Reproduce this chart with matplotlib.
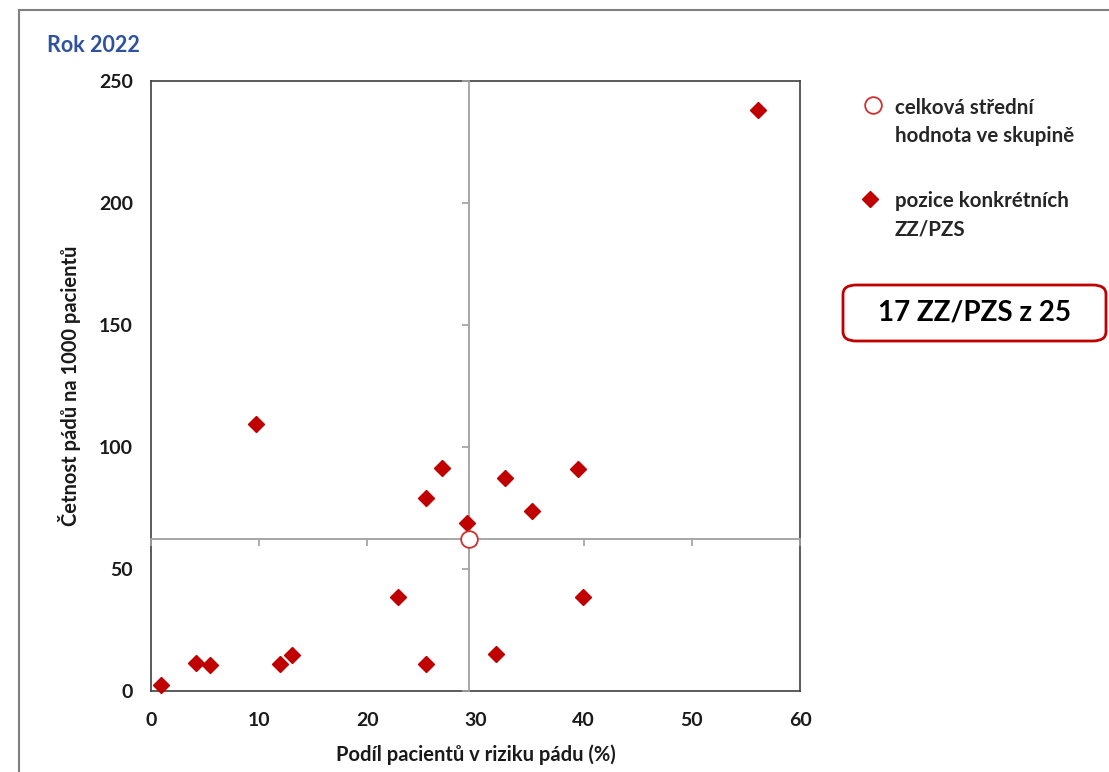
import matplotlib
matplotlib.use("Agg")
import matplotlib.pyplot as plt
from matplotlib.lines import Line2D
from matplotlib.patches import Rectangle, FancyBboxPatch

plt.rcParams['font.family'] = ['Lato', 'DejaVu Sans']
plt.rcParams['font.weight'] = 'bold'

# Data
risk_pct = [9.7, 26.9, 25.4, 29.2, 32.7, 35.2, 39.5, 22.8, 39.9, 31.9,
            25.4, 13.0, 11.9, 4.2, 5.5, 0.9, 56.1]
falls_per_1000 = [109.3, 91.5, 79.0, 68.9, 87.4, 73.8, 91.1, 38.5, 38.5, 15.2,
                  11.1, 14.6, 11.1, 11.6, 10.5, 2.6, 238.1]
mean_x = 29.4
mean_y = 62.5
x_ticks = [0, 10, 20, 30, 40, 50, 60]
y_ticks = [0, 50, 100, 150, 200, 250]
title = "Rok 2022"
xlabel = "Podíl pacientů v riziku pádu (%)"
ylabel = "Četnost pádů na 1000 pacientů"
legend_labels = ["celková střední\nhodnota ve skupině", "pozice konkrétních\nZZ/PZS"]
box_text = "17 ZZ/PZS z 25"

RED = "#C00000"
TXT = "#1a1a1a"
W, H = 1109, 772
fig = plt.figure(figsize=(W / 100, H / 100), dpi=100)

def fx(px):
    return px / W

def fy(py):
    return 1 - py / H

# outer frame
fig.patches.append(Rectangle((fx(19), -0.1), 1.2, fy(10) + 0.1, transform=fig.transFigure,
                             fill=False, edgecolor="#7f7f7f", linewidth=1.5))

pos = [fx(151), fy(691), (800 - 151) / W, (691 - 81) / H]
ax = fig.add_axes(pos)
ax.set_xlim(0, 60)
ax.set_ylim(0, 250)
ax.set_xticks(x_ticks)
ax.set_yticks(y_ticks)
ax.tick_params(length=0, labelsize=14, labelcolor=TXT)
ax.tick_params(axis='y', pad=13)
ax.tick_params(axis='x', pad=15)
for s in ax.spines.values():
    s.set_color("#404040")
    s.set_linewidth(1.2)
ax.set_xlabel(xlabel, fontsize=14.5, fontweight='bold', color=TXT)
ax.set_ylabel(ylabel, fontsize=14.5, fontweight='bold', color=TXT)
ax.xaxis.set_label_coords(0.5, (691 - 744) / 610)
ax.yaxis.set_label_coords((81 - 151) / 649, 0.5)

# crosshair axes at the group mean
ax2 = fig.add_axes(pos, sharex=ax, sharey=ax)
ax2.patch.set_visible(False)
for k in ['top', 'right']:
    ax2.spines[k].set_visible(False)
ax2.spines['left'].set_position(('data', mean_x))
ax2.spines['bottom'].set_position(('data', mean_y))
for k in ['left', 'bottom']:
    ax2.spines[k].set_color("#a0a0a0")
    ax2.spines[k].set_linewidth(1.3)
ax2.tick_params(direction='out', length=5, width=1.2, color="#a0a0a0",
                labelleft=False, labelbottom=False)

ax2.plot(risk_pct, falls_per_1000, linestyle='none', marker='D', markersize=8.5,
         color=RED, zorder=5, clip_on=False)
ax2.plot([mean_x], [mean_y], linestyle='none', marker='o', markersize=12,
         markerfacecolor='white', markeredgecolor="#D03030", markeredgewidth=1.3,
         zorder=6, clip_on=False)

fig.text(fx(47), fy(45), title, color="#2F52A0", fontsize=15.5, fontweight='bold',
         va='center', ha='left')

# legend (manual, marker aligned with first text line as in the reference)
fig.add_artist(Line2D([fx(873)], [fy(105)], transform=fig.transFigure, linestyle='none',
                      marker='o', markersize=12, markerfacecolor='white',
                      markeredgecolor="#D03030", markeredgewidth=1.3))
fig.add_artist(Line2D([fx(870)], [fy(199)], transform=fig.transFigure, linestyle='none',
                      marker='D', markersize=8.5, color=RED))
for lab, yc in zip(legend_labels, [105, 198]):
    fig.text(fx(895), fy(yc + 31 + 6), lab, fontsize=14.8, fontweight='bold', color="#262626",
             ha='left', va='baseline', linespacing=1.5)

bx0, by0, bw, bh = fx(843), fy(341), (1106 - 843) / W, (341 - 285) / H
fig.patches.append(FancyBboxPatch((bx0, by0), bw, bh, transform=fig.transFigure,
                                  boxstyle="round,pad=0,rounding_size=0.012",
                                  facecolor='white', edgecolor=RED, linewidth=2))
fig.text(bx0 + bw / 2, by0 + bh / 2, box_text, fontsize=20, fontweight='bold',
         ha='center', va='center', color="black")

fig.savefig("out.png", dpi=100)
